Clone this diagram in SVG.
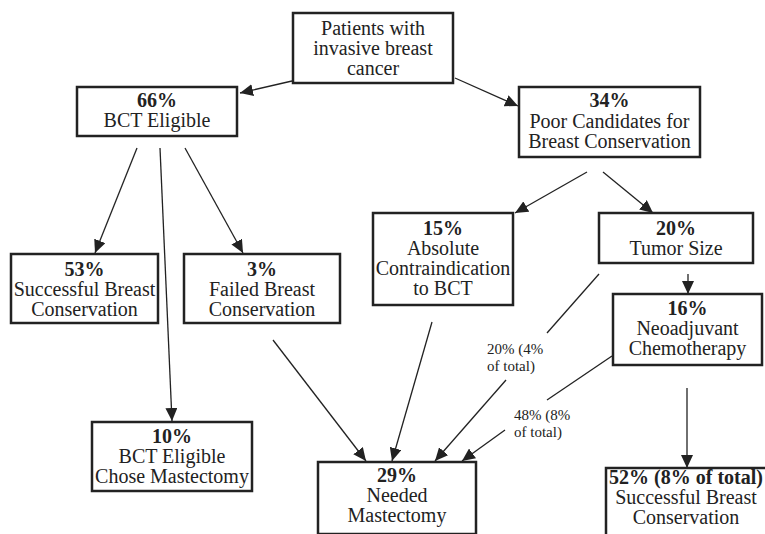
<svg xmlns="http://www.w3.org/2000/svg" width="765" height="534" viewBox="0 0 765 534">
<style>
.box{fill:#fff;stroke:#222;stroke-width:2.5}
.t{font-size:20px;fill:#222;text-anchor:middle}
.b{font-weight:bold}
.lbl{font-size:15px;fill:#222}
.c{stroke:#222;stroke-width:1.3;fill:none}
.a{marker-end:url(#ah)}
</style>
<defs>
<marker id="ah" markerUnits="userSpaceOnUse" markerWidth="14" markerHeight="12" viewBox="0 0 14 12" refX="13" refY="6" orient="auto">
<path d="M0,0 L13,6 L0,12 Z" fill="#222"/>
</marker>
</defs>
<rect width="765" height="534" fill="#fff"/>
<g font-family="Liberation Serif, Times New Roman, serif">
<g id="connectors">
<line class="c a" x1="292" y1="81" x2="240" y2="93"/>
<line class="c a" x1="455" y1="78" x2="518" y2="106"/>
<line class="c a" x1="137" y1="148" x2="95" y2="253"/>
<line class="c a" x1="160" y1="148" x2="172" y2="421"/>
<line class="c a" x1="185" y1="148" x2="243" y2="253"/>
<line class="c a" x1="587" y1="172" x2="515" y2="213"/>
<line class="c a" x1="603" y1="172" x2="653" y2="213"/>
<line class="c a" x1="688" y1="274" x2="688" y2="294"/>
<line class="c a" x1="687" y1="388" x2="687" y2="468"/>
<line class="c a" x1="432" y1="322" x2="392" y2="461"/>
<line class="c a" x1="273" y1="340" x2="366" y2="461"/>
<line class="c" x1="599" y1="274" x2="547" y2="333"/>
<line class="c a" x1="506" y1="380" x2="435" y2="461"/>
<line class="c" x1="612" y1="356" x2="547" y2="400"/>
<line class="c a" x1="505" y1="430" x2="462" y2="461"/>
<text class="lbl" x="487" y="354">20% (4%</text>
<text class="lbl" x="487" y="371">of total)</text>
<text class="lbl" x="514" y="420">48% (8%</text>
<text class="lbl" x="514" y="437">of total)</text>
</g>
<g id="patients">
<rect class="box" x="293" y="13" width="160" height="70"/>
<text class="t" x="373" y="35">Patients with</text>
<text class="t" x="373" y="55">invasive breast</text>
<text class="t" x="373" y="75">cancer</text>
</g>
<g id="bct-eligible">
<rect class="box" x="77" y="87" width="160" height="49"/>
<text class="t b" x="157" y="107">66%</text>
<text class="t" x="157" y="127">BCT Eligible</text>
</g>
<g id="poor-candidates">
<rect class="box" x="519" y="87" width="181" height="70"/>
<text class="t b" x="609.5" y="107">34%</text>
<text class="t" x="609.5" y="128">Poor Candidates for</text>
<text class="t" x="609.5" y="148">Breast Conservation</text>
</g>
<g id="successful-53">
<rect class="box" x="11" y="254" width="147" height="69"/>
<text class="t b" x="84.5" y="276">53%</text>
<text class="t" x="84.5" y="296">Successful Breast</text>
<text class="t" x="84.5" y="316">Conservation</text>
</g>
<g id="failed-3">
<rect class="box" x="184" y="254" width="156" height="69"/>
<text class="t b" x="262" y="276">3%</text>
<text class="t" x="262" y="296">Failed Breast</text>
<text class="t" x="262" y="316">Conservation</text>
</g>
<g id="absolute-15">
<rect class="box" x="373" y="213" width="140" height="92"/>
<text class="t b" x="443" y="235">15%</text>
<text class="t" x="443" y="255">Absolute</text>
<text class="t" x="443" y="275">Contraindication</text>
<text class="t" x="443" y="295">to BCT</text>
</g>
<g id="tumor-20">
<rect class="box" x="599" y="213" width="154" height="50"/>
<text class="t b" x="676" y="235">20%</text>
<text class="t" x="676" y="255">Tumor Size</text>
</g>
<g id="neoadjuvant-16">
<rect class="box" x="613" y="294" width="149" height="71"/>
<text class="t b" x="687.5" y="315">16%</text>
<text class="t" x="687.5" y="335">Neoadjuvant</text>
<text class="t" x="687.5" y="355">Chemotherapy</text>
</g>
<g id="chose-10">
<rect class="box" x="92" y="422" width="160" height="69"/>
<text class="t b" x="172" y="443">10%</text>
<text class="t" x="172" y="463">BCT Eligible</text>
<text class="t" x="172" y="483">Chose Mastectomy</text>
</g>
<g id="needed-29">
<rect class="box" x="318" y="462" width="158" height="72"/>
<text class="t b" x="397" y="482">29%</text>
<text class="t" x="397" y="502">Needed</text>
<text class="t" x="397" y="522">Mastectomy</text>
</g>
<g id="successful-52">
<rect class="box" x="606" y="468" width="170" height="80"/>
<text class="t b" x="686" y="484">52% (8% of total)</text>
<text class="t" x="686" y="504">Successful Breast</text>
<text class="t" x="686" y="524">Conservation</text>
</g>
</g>
</svg>
